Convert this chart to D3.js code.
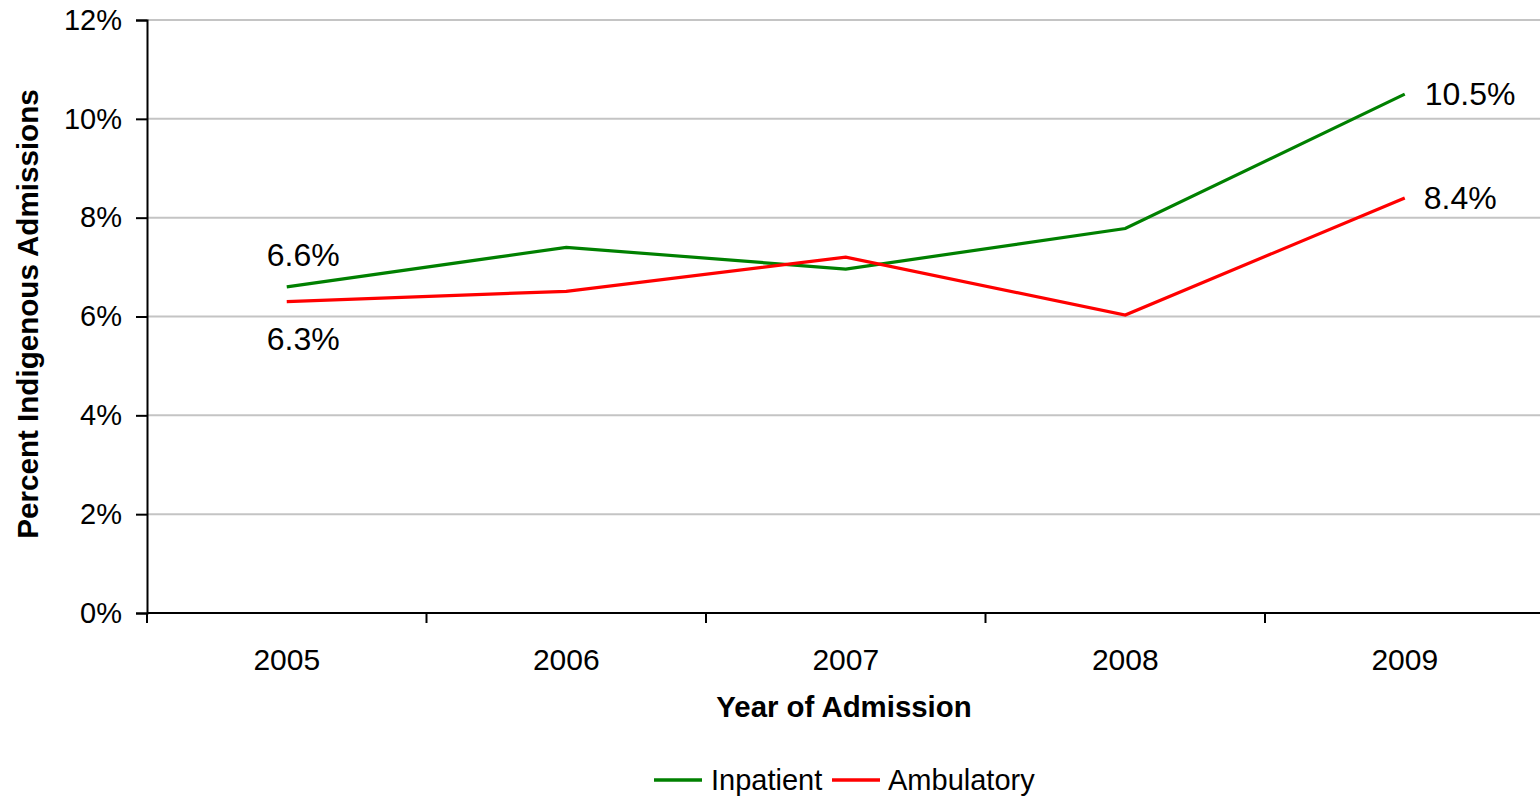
<!DOCTYPE html>
<html>
<head>
<meta charset="utf-8">
<script src="https://cdn.jsdelivr.net/npm/d3@7"></script>
<style>
  html, body { margin: 0; padding: 0; background: #fff; }
  svg { display: block; font-family: "Liberation Sans", Arial, sans-serif; }
</style>
</head>
<body>
<svg id="chart" width="1540" height="798"></svg>
<script>
// Admission years and the share of Indigenous admissions (%) per setting
const years = ["2005", "2006", "2007", "2008", "2009"];
const inpatient = [6.6, 7.4, 6.96, 7.78, 10.5];
const ambulatory = [6.3, 6.51, 7.2, 6.03, 8.4];
const yTicks = [0, 2, 4, 6, 8, 10, 12];
const seriesNames = ["Inpatient", "Ambulatory"];
const seriesColors = ["#008000", "#ff0000"];

const svg = d3.select("#chart");
const plot = { left: 147, top: 20, bottom: 613, band: 279.5 };

const x = d3.scaleBand()
  .domain(years)
  .range([plot.left, plot.left + plot.band * years.length])
  .paddingInner(0).paddingOuter(0);
const xc = d => x(d) + x.bandwidth() / 2;

const y = d3.scaleLinear().domain([0, 12]).range([plot.bottom, plot.top]);

// horizontal gridlines
svg.append("g")
  .selectAll("line")
  .data(yTicks.filter(t => t > 0))
  .join("line")
  .attr("x1", plot.left).attr("x2", 1540)
  .attr("y1", d => y(d)).attr("y2", d => y(d))
  .attr("stroke", "#c4c4c4").attr("stroke-width", 2);

// y axis
const yAxis = svg.append("g")
  .attr("transform", `translate(${plot.left},0)`)
  .call(d3.axisLeft(y).tickValues(yTicks).tickFormat(d => d + "%").tickSize(11).tickPadding(14));
yAxis.select(".domain").attr("stroke", "#000").attr("stroke-width", 2);
yAxis.selectAll(".tick line").attr("stroke", "#000").attr("stroke-width", 2);
yAxis.selectAll(".tick text")
  .attr("font-size", 29).attr("fill", "#000")
  .attr("font-family", "Liberation Sans, Arial, sans-serif");

// x axis: labels centred in each band, tick marks on band edges
const xAxis = svg.append("g")
  .attr("transform", `translate(0,${plot.bottom})`)
  .call(d3.axisBottom(x).tickSize(0).tickPadding(36));
xAxis.select(".domain").attr("stroke", "#000").attr("stroke-width", 2)
  .attr("d", `M${plot.left},0H1540`);
xAxis.selectAll(".tick text")
  .attr("font-size", 30).attr("fill", "#000")
  .attr("font-family", "Liberation Sans, Arial, sans-serif");
xAxis.append("g")
  .selectAll("line")
  .data(years)
  .join("line")
  .attr("x1", d => x(d)).attr("x2", d => x(d))
  .attr("y1", 0).attr("y2", 10)
  .attr("stroke", "#000").attr("stroke-width", 2);

// axis titles
svg.append("text")
  .attr("transform", `translate(38,314) rotate(-90)`)
  .attr("text-anchor", "middle")
  .attr("font-size", 29.6).attr("font-weight", "bold")
  .text("Percent Indigenous Admissions");

svg.append("text")
  .attr("x", 844).attr("y", 717)
  .attr("text-anchor", "middle")
  .attr("font-size", 29.4).attr("font-weight", "bold")
  .text("Year of Admission");

// series lines
const line = d3.line().x((d, i) => xc(years[i])).y(d => y(d));
[inpatient, ambulatory].forEach((vals, k) => {
  svg.append("path")
    .datum(vals)
    .attr("d", line)
    .attr("fill", "none")
    .attr("stroke", seriesColors[k])
    .attr("stroke-width", 3.2)
    .attr("stroke-linejoin", "miter");
});

// value labels at the first and last year
const fmt = v => v.toFixed(1) + "%";
const labels = [
  { v: inpatient[0], yr: years[0], dx: -20, dy: -21 },
  { v: ambulatory[0], yr: years[0], dx: -20, dy: 48 },
  { v: inpatient[4], yr: years[4], dx: 20, dy: 11 },
  { v: ambulatory[4], yr: years[4], dx: 19, dy: 11 }
];
svg.append("g")
  .selectAll("text")
  .data(labels)
  .join("text")
  .attr("x", d => xc(d.yr) + d.dx)
  .attr("y", d => y(d.v) + d.dy)
  .attr("font-size", 32).attr("fill", "#000")
  .text(d => fmt(d.v));

// legend
const legend = svg.append("g");
const legendItems = [
  { name: seriesNames[0], color: seriesColors[0], x: 654, tx: 711 },
  { name: seriesNames[1], color: seriesColors[1], x: 832, tx: 888 }
];
legendItems.forEach(it => {
  legend.append("line")
    .attr("x1", it.x).attr("x2", it.x + 48)
    .attr("y1", 780).attr("y2", 780)
    .attr("stroke", it.color).attr("stroke-width", 3.5);
  legend.append("text")
    .attr("x", it.tx).attr("y", 790)
    .attr("font-size", 29).attr("fill", "#000")
    .text(it.name);
});
</script>
</body>
</html>
